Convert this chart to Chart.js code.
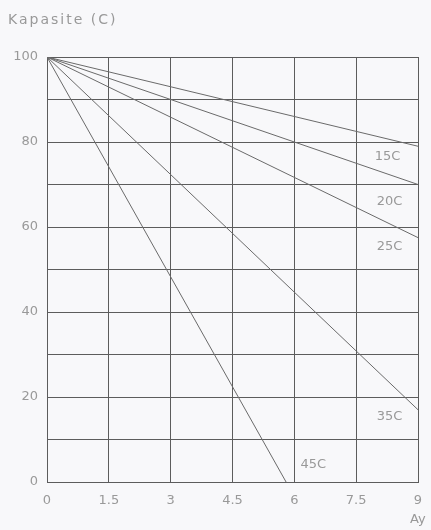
<!DOCTYPE html>
<html><head><meta charset="utf-8">
<script src="https://cdn.jsdelivr.net/npm/chart.js@4/dist/chart.umd.min.js"></script>
<style>html,body{margin:0;padding:0;background:#f8f8fa;}#c{display:block;}</style>
</head><body>
<div style="width:431px;height:530px;"><canvas id="c" width="431" height="530"></canvas></div>
<script>
const seriesNames = ["15C", "20C", "25C", "35C", "45C"];
const xStart = [0, 0, 0, 0, 0];
const yStart = [100, 100, 100, 100, 100];
const xEnd = [9, 9, 9, 9, 5.8];
const yEnd = [79, 70, 57.5, 17, 0];
const xTicks = [0, 1.5, 3, 4.5, 6, 7.5, 9];
const yTickLabels = [0, 20, 40, 60, 80, 100];

const labelAnchors = [[7.95, 76.5], [8.0, 66], [8.0, 55.5], [8.0, 15.5], [6.15, 4]];

const datasets = seriesNames.map((n, i) => ({
  label: n,
  data: [{x: xStart[i], y: yStart[i]}, {x: xEnd[i], y: yEnd[i]}],
  borderColor: '#6a6a6a', borderWidth: 1, pointRadius: 0, fill: false, tension: 0
}));

const textPlugin = {
  id: 'texts',
  afterDatasetsDraw(chart) {
    const {ctx, scales:{x, y}} = chart;
    ctx.save();
    ctx.fillStyle = '#999999';
    ctx.font = '13px "DejaVu Sans"';
    ctx.textAlign = 'left'; ctx.textBaseline = 'middle';
    seriesNames.forEach((n, i) => {
      ctx.fillText(n, x.getPixelForValue(labelAnchors[i][0]), y.getPixelForValue(labelAnchors[i][1]));
    });
    ctx.font = '14px "DejaVu Sans"';
    try { ctx.letterSpacing = '2px'; } catch (e) {}
    ctx.fillText('Kapasite (C)', 8, 20);
    try { ctx.letterSpacing = '0px'; } catch (e) {}
    ctx.font = '13px "DejaVu Sans"';
    ctx.fillText('Ay', 410, 520);
    ctx.restore();
  }
};

new Chart(document.getElementById('c'), {
  type: 'scatter',
  data: { datasets },
  options: {
    responsive: false, animation: false, showLine: true,
    layout: { padding: { top: 57, right: 13, left: 0, bottom: 0 } },
    plugins: { legend: { display: false }, tooltip: { enabled: false } },
    scales: {
      x: {
        type: 'linear', min: 0, max: 9,
        afterBuildTicks: s => { s.ticks = xTicks.map(v => ({value: v})); },
        afterFit: s => { s.height = 48; s.paddingRight = 0; s.paddingLeft = 0; },
        grid: { color: '#5c5c5c', lineWidth: 1, drawTicks: false },
        border: { color: '#5c5c5c', width: 1 },
        ticks: { color: '#999999', font: { family: 'DejaVu Sans', size: 13 }, padding: 11,
                 callback: v => String(v) }
      },
      y: {
        type: 'linear', min: 0, max: 100,
        ticks: { stepSize: 10, color: '#999999', font: { family: 'DejaVu Sans', size: 13 }, padding: 9,
                 callback: v => yTickLabels.includes(v) ? String(v) : '' },
        afterFit: s => { s.width = 47; s.paddingTop = 0; s.paddingBottom = 0; },
        grid: { color: '#5c5c5c', lineWidth: 1, drawTicks: false },
        border: { color: '#5c5c5c', width: 1 }
      }
    }
  },
  plugins: [textPlugin]
});
</script>
</body></html>
